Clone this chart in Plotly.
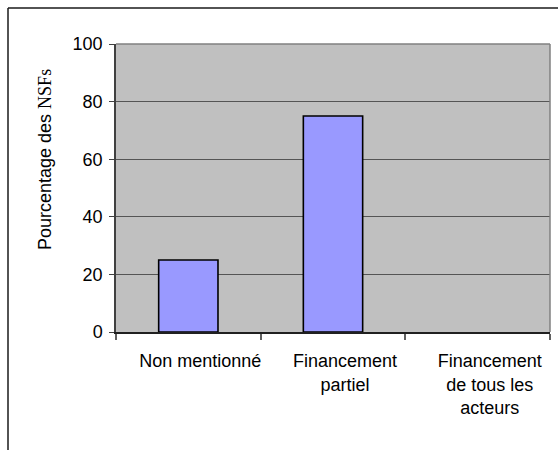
import plotly.graph_objects as go

categories = ["Non mentionné", "Financement<br>partiel", "Financement<br>de tous les<br>acteurs"]
values = [25, 75, 0]
y_ticks = [0, 20, 40, 60, 80, 100]
y_title = "Pourcentage des <span style='font-family:\"Liberation Serif\", \"Times New Roman\", serif'>NSFs</span>"

W, H = 558, 450
L, R, T, B = 116, 8, 44, 118
pw, ph = W - L - R, H - T - B

def px_x(px):
    return (px - L) / pw

def px_y(py):
    return (H - B - py) / ph

fig = go.Figure()
fig.add_trace(go.Bar(
    x=categories, y=values, width=0.41,
    marker=dict(color="#9999FF",
                line=dict(color="#000000", width=[1.6 if v > 0 else 0 for v in values])),
))

font = "Liberation Sans, Arial, sans-serif"
fig.update_layout(
    width=W, height=H,
    margin=dict(l=L, r=R, t=T, b=B, pad=0),
    paper_bgcolor="white", plot_bgcolor="#C0C0C0",
    showlegend=False,
    font=dict(family=font, color="#000000", size=18),
)
fig.update_xaxes(
    showline=True, linecolor="#202020", linewidth=1.5, mirror=False,
    ticks="outside", tickson="boundaries", ticklen=6, tickcolor="#606060", tickwidth=1.5,
    tickfont=dict(size=18, family=font), showgrid=False,
    ticklabelstandoff=12, ticklabelshift=12,
)
fig.update_yaxes(
    range=[0, 100], tickvals=y_ticks, showline=True, linecolor="#404040", linewidth=1.5,
    ticks="outside", ticklen=5, tickcolor="#404040", tickwidth=1.2,
    tickfont=dict(size=18, family=font), ticklabelstandoff=3,
    showgrid=True, gridcolor="#555555", gridwidth=1.3, zeroline=False,
)
# plot area top/right border
fig.add_shape(type="line", xref="paper", yref="paper", x0=0, x1=1, y0=1, y1=1,
              line=dict(color="#808080", width=1.5))
fig.add_shape(type="line", xref="paper", yref="paper", x0=1, x1=1, y0=0, y1=1,
              line=dict(color="#808080", width=1.5))
# outer chart border (top and left visible)
fig.add_shape(type="line", xref="paper", yref="paper", x0=px_x(8), x1=px_x(570), y0=px_y(8), y1=px_y(8),
              line=dict(color="#1a1a1a", width=1.5))
fig.add_shape(type="line", xref="paper", yref="paper", x0=px_x(8), x1=px_x(8), y0=px_y(8), y1=px_y(470),
              line=dict(color="#1a1a1a", width=1.5))
fig.add_annotation(
    text=y_title, xref="paper", yref="paper", x=px_x(45), y=px_y(160),
    textangle=-90, showarrow=False, font=dict(size=18, family=font),
    xanchor="center", yanchor="middle",
)
fig.write_html("out.html")
